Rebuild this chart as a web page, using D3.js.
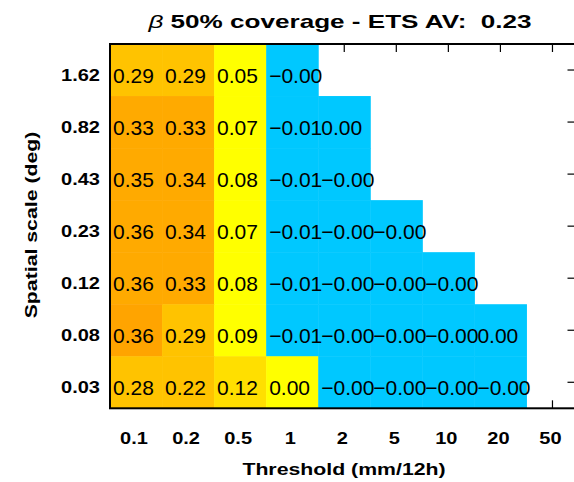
<!DOCTYPE html>
<html>
<head>
<meta charset="utf-8">
<script src="https://cdn.jsdelivr.net/npm/d3@7"></script>
<style>
  html, body { margin: 0; padding: 0; background: #fff; }
  svg { display: block; }
  text { font-family: "Liberation Sans", Arial, sans-serif; white-space: pre; }
</style>
</head>
<body>
<svg id="chart" width="574" height="482"></svg>
<script>
// Precipitation thresholds (columns) and spatial scales (rows, top to bottom)
const thresholds = ["0.1", "0.2", "0.5", "1", "2", "5", "10", "20", "50"];
const spatialScales = ["1.62", "0.82", "0.43", "0.23", "0.12", "0.08", "0.03"];

// Score per threshold for each spatial scale (null = no sample)
const scale_1_62 = [0.29, 0.29, 0.05, -0.002, null, null, null, null, null];
const scale_0_82 = [0.33, 0.33, 0.07, -0.01, 0.0, null, null, null, null];
const scale_0_43 = [0.35, 0.34, 0.08, -0.01, -0.002, null, null, null, null];
const scale_0_23 = [0.36, 0.34, 0.07, -0.01, -0.002, -0.002, null, null, null];
const scale_0_12 = [0.36, 0.33, 0.08, -0.01, -0.002, -0.002, -0.002, null, null];
const scale_0_08 = [0.364, 0.29, 0.09, -0.01, -0.002, -0.002, -0.002, 0.0, null];
const scale_0_03 = [0.28, 0.22, 0.12, 0.003, -0.002, -0.002, -0.002, -0.002, null];

const rows = [scale_1_62, scale_0_82, scale_0_43, scale_0_23, scale_0_12, scale_0_08, scale_0_03];
const titleText = " 50% coverage - ETS AV:  0.23";

// Discrete colour levels
const levelBreaks = [0.0000001, 0.1, 0.2, 0.3, 0.362];
const levelColors = ["#00c8ff", "#ffff00", "#ffdf00", "#ffc300", "#ffaa00", "#ffa400"];
const color = d3.scaleThreshold().domain(levelBreaks).range(levelColors);

const fmt = v => (v < 0 ? "\u2212" : "") + Math.abs(v).toFixed(2);

const svg = d3.select("#chart");
const plot = { left: 110, right: 578.5, top: 44, bottom: 408.3 };

const x = d3.scaleBand().domain(thresholds).range([plot.left, plot.right]);
const y = d3.scaleBand().domain(spatialScales).range([plot.top, plot.bottom]);

const cells = [];
rows.forEach((vals, i) => vals.forEach((v, j) => {
  if (v !== null) cells.push({ row: spatialScales[i], col: thresholds[j], v });
}));

// Inward ticks on all four sides (drawn first, cells cover them)
const tickGroup = svg.append("g").attr("stroke-width", 1.2);
tickGroup.append("g").attr("transform", `translate(0,${plot.top})`)
  .call(d3.axisTop(x).tickSizeInner(-8).tickSizeOuter(0).tickFormat(""));
tickGroup.append("g").attr("transform", `translate(0,${plot.bottom})`)
  .call(d3.axisBottom(x).tickSizeInner(-8).tickSizeOuter(0).tickFormat(""));
tickGroup.append("g").attr("transform", `translate(${plot.right},0)`)
  .call(d3.axisRight(y).tickSizeInner(-11).tickSizeOuter(0).tickFormat(""));
tickGroup.append("g").attr("transform", `translate(${plot.left},0)`)
  .call(d3.axisLeft(y).tickSizeInner(-11).tickSizeOuter(0).tickFormat(""));
tickGroup.selectAll(".domain").remove();
tickGroup.selectAll("line").attr("stroke", "#000");

// Cells
svg.append("g").selectAll("rect").data(cells).join("rect")
  .attr("x", d => x(d.col))
  .attr("y", d => y(d.row))
  .attr("width", x.bandwidth() + 0.5)
  .attr("height", y.bandwidth() + 0.5)
  .attr("fill", d => color(d.v));

// Frame
svg.append("rect")
  .attr("x", plot.left).attr("y", plot.top)
  .attr("width", plot.right - plot.left).attr("height", plot.bottom - plot.top)
  .attr("fill", "none").attr("stroke", "#000").attr("stroke-width", 2);

// Cell values
svg.append("g").selectAll("text").data(cells).join("text")
  .attr("x", d => x(d.col) + 3)
  .attr("y", d => y(d.row) + y.bandwidth() / 2 + 12.5)
  .attr("font-size", 21)
  .attr("fill", "#000")
  .text(d => fmt(d.v));

// Y tick labels
svg.append("g").selectAll("text").data(spatialScales).join("text")
  .attr("transform", d => `translate(100,${y(d) + y.bandwidth() / 2 + 10.5}) scale(1.25,1)`)
  .attr("text-anchor", "end")
  .attr("font-size", 16).attr("font-weight", "bold")
  .text(d => d);

// X tick labels
svg.append("g").selectAll("text").data(thresholds).join("text")
  .attr("transform", d => `translate(${x(d) + x.bandwidth() / 2 - 2},444) scale(1.25,1)`)
  .attr("text-anchor", "middle")
  .attr("font-size", 16).attr("font-weight", "bold")
  .text(d => d);

// Axis titles
svg.append("text")
  .attr("transform", "translate(344,475) scale(1.33,1)")
  .attr("text-anchor", "middle")
  .attr("font-size", 16).attr("font-weight", "bold")
  .text("Threshold (mm/12h)");

svg.append("text")
  .attr("transform", "translate(37,225) rotate(-90) scale(1.33,1)")
  .attr("text-anchor", "middle")
  .attr("font-size", 16).attr("font-weight", "bold")
  .text("Spatial scale (deg)");

// Title
const title = svg.append("text")
  .attr("transform", "translate(340,28) scale(1.45,1)")
  .attr("text-anchor", "middle")
  .attr("font-size", 18).attr("font-weight", "bold");
title.append("tspan").attr("font-style", "italic").attr("font-weight", "normal").text("\u03b2");
title.append("tspan").text(titleText);
</script>
</body>
</html>
